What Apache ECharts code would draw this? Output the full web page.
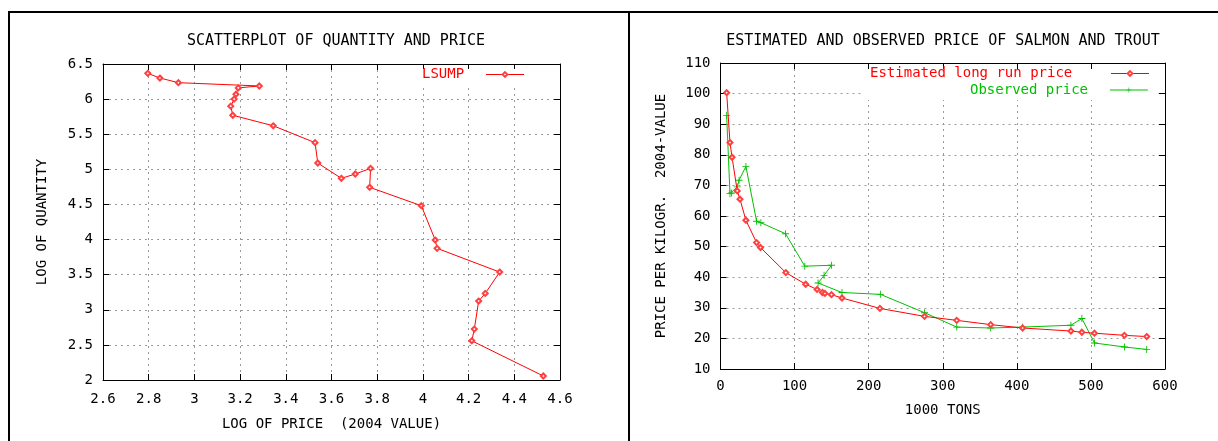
<!DOCTYPE html>
<html>
<head>
<meta charset="utf-8">
<script src="https://cdn.jsdelivr.net/npm/echarts@6/dist/echarts.min.js"></script>
<style>
html, body { margin: 0; padding: 0; background: #fff; }
#chart { width: 1218px; height: 441px; }
</style>
</head>
<body>
<div id="chart"></div>
<script>
// left panel: log of price vs log of quantity, in plotting order
const lsumpPoints = [
  [2.796, 6.367], [2.849, 6.30], [2.93, 6.234], [3.284, 6.187], [3.192, 6.16],
  [3.182, 6.07], [3.174, 6.0], [3.159, 5.9], [3.168, 5.77], [3.345, 5.62],
  [3.528, 5.38], [3.54, 5.09], [3.643, 4.872], [3.704, 4.933], [3.771, 5.014],
  [3.767, 4.744], [3.993, 4.482], [4.054, 3.993], [4.062, 3.875], [4.336, 3.537],
  [4.273, 3.233], [4.244, 3.124], [4.225, 2.725], [4.214, 2.558], [4.527, 2.057],
]

// right panel: 1000 tons vs price per kg (2004 value)
const estimatedPrice = [
  [8.3, 100.3], [12.8, 84], [15.6, 79.2], [22.6, 68.2], [26.3, 65.5],
  [34.3, 58.6], [48.7, 51.3], [54, 49.7], [88.2, 41.5], [115, 37.7],
  [130.4, 36.0], [137.6, 35.0], [141, 34.7], [149.8, 34.3], [164, 33.2],
  [215.2, 29.8], [275.4, 27.2], [318.9, 25.9], [364.7, 24.5], [407.8, 23.4],
  [473, 22.4], [487.8, 22.0], [504.8, 21.7], [545.2, 21.0], [575.3, 20.6],
]
const observedPrice = [
  [8.3, 92.9], [12.8, 67.3], [15, 67.5], [22.6, 69.5], [25, 71.7],
  [34.3, 76.2], [48.7, 58.3], [54.5, 57.8], [87.8, 54.2], [113.8, 43.6],
  [149.8, 43.9], [139.8, 40.6], [131.7, 38.1], [164, 35], [215.8, 34.4],
  [275.4, 28.4], [318.9, 23.7], [364.7, 23.4], [407.8, 23.7], [473, 24.3],
  [487.8, 26.5], [504.8, 18.5], [545.2, 17.2], [575.3, 16.4],
]

// axis ranges: [min, max, interval]
const logPriceRange = [2.6, 4.6, 0.2]
const logQuantityRange = [2, 6.5, 0.5]
const tonsRange = [0, 600, 100]
const priceRange = [10, 110, 10]

const FONT = 'DejaVu Sans Mono'
const txt = { fontFamily: FONT, fontSize: 14, color: '#000' }

function mainAxis(pos, range, gridIndex, name, nameGap, labelMargin) {
  return {
    type: 'value',
    gridIndex: gridIndex,
    position: pos,
    min: range[0],
    max: range[1],
    interval: range[2],
    name: name,
    nameLocation: 'middle',
    nameGap: nameGap,
    nameRotate: pos === 'left' ? 90 : 0,
    nameTextStyle: txt,
    axisLine: { show: true, onZero: false, lineStyle: { color: '#000', width: 1 } },
    axisTick: { show: true, inside: true, length: 6, lineStyle: { color: '#000' } },
    axisLabel: {
      fontFamily: FONT, fontSize: 14, color: '#000', margin: labelMargin,
      formatter: v => String(Math.round(v * 10) / 10),
    },
    splitLine: { show: true, lineStyle: { color: '#999', width: 1, type: [2, 4] } },
  }
}

// gnuplot mirrors the ticks on the top and right border
function mirrorAxis(pos, range, gridIndex) {
  return {
    type: 'value',
    gridIndex: gridIndex,
    position: pos,
    min: range[0],
    max: range[1],
    interval: range[2],
    axisLine: { show: true, onZero: false, lineStyle: { color: '#000', width: 1 } },
    axisTick: { show: true, inside: true, length: 6, lineStyle: { color: '#000' } },
    axisLabel: { show: false },
    splitLine: { show: false },
  }
}

const plusSymbol = 'path://M0,3.5 H8 V4.5 H0 Z M3.5,0 H4.5 V8 H3.5 Z'

const keyLegend = {
  padding: 0, align: 'right', selectedMode: false,
  itemWidth: 38, itemHeight: 6, textStyle: txt,
  lineStyle: { width: 1 },
}

const chart = echarts.init(document.getElementById('chart'), null, { renderer: 'canvas' })
chart.setOption({
  animation: false,
  title: [
    {
      text: 'SCATTERPLOT OF QUANTITY AND PRICE',
      left: 331, top: 29, textAlign: 'center',
      textStyle: { fontFamily: FONT, fontSize: 15, fontWeight: 'normal', color: '#000' },
    },
    {
      text: 'ESTIMATED AND OBSERVED PRICE OF SALMON AND TROUT',
      left: 938, top: 29, textAlign: 'center',
      textStyle: { fontFamily: FONT, fontSize: 15, fontWeight: 'normal', color: '#000' },
    },
  ],
  grid: [
    { left: 103, top: 64, width: 457, height: 316 },
    { left: 720.5, top: 63, width: 444.5, height: 306 },
  ],
  xAxis: [
    mainAxis('bottom', logPriceRange, 0, 'LOG OF PRICE  (2004 VALUE)', 37, 12),
    mirrorAxis('top', logPriceRange, 0),
    mainAxis('bottom', tonsRange, 1, '1000 TONS', 34, 10),
    mirrorAxis('top', tonsRange, 1),
  ],
  yAxis: [
    mainAxis('left', logQuantityRange, 0, 'LOG OF QUANTITY', 54, 10),
    mirrorAxis('right', logQuantityRange, 0),
    mainAxis('left', priceRange, 1, 'PRICE PER KILOGR.  2004-VALUE', 52, 10),
    mirrorAxis('right', priceRange, 1),
  ],
  legend: [
    Object.assign({}, keyLegend, {
      data: [{ name: 'LSUMP', textStyle: { color: '#ff0000' } }],
      left: 422, top: 67.5, formatter: n => n + '  ',
    }),
    Object.assign({}, keyLegend, {
      data: [{ name: 'Estimated long run price', textStyle: { color: '#ff0000' } }],
      left: 870, top: 66.5, formatter: n => n + '    ',
    }),
    Object.assign({}, keyLegend, {
      data: [{ name: 'Observed price', textStyle: { color: '#00c000' } }],
      left: 970, top: 83, formatter: n => n + '  ',
    }),
  ],
  graphic: [
    // key backgrounds hide the grid like gnuplot does
    { type: 'rect', z: 3, silent: true, shape: { x: 418, y: 69, width: 112, height: 16 }, style: { fill: '#fff' } },
    { type: 'rect', z: 3, silent: true, shape: { x: 864, y: 69, width: 292, height: 31 }, style: { fill: '#fff' } },
    // page frame
    { type: 'line', z: 10, silent: true, shape: { x1: 8, y1: 12, x2: 1218, y2: 12 }, style: { stroke: '#000', lineWidth: 2 } },
    { type: 'line', z: 10, silent: true, shape: { x1: 9, y1: 12, x2: 9, y2: 441 }, style: { stroke: '#000', lineWidth: 2 } },
    { type: 'line', z: 10, silent: true, shape: { x1: 629, y1: 12, x2: 629, y2: 441 }, style: { stroke: '#000', lineWidth: 2 } },
  ],
  series: [
    {
      name: 'LSUMP',
      type: 'line',
      xAxisIndex: 0,
      yAxisIndex: 0,
      data: lsumpPoints,
      symbol: 'emptyDiamond',
      symbolSize: 5,
      lineStyle: { color: '#ff0000', width: 1 },
      itemStyle: { color: '#ff4040', borderWidth: 1 },
      z: 5,
    },
    {
      name: 'Estimated long run price',
      type: 'line',
      xAxisIndex: 2,
      yAxisIndex: 2,
      data: estimatedPrice,
      symbol: 'emptyDiamond',
      symbolSize: 5,
      lineStyle: { color: '#ff0000', width: 1 },
      itemStyle: { color: '#ff4040', borderWidth: 1 },
      z: 5,
    },
    {
      name: 'Observed price',
      type: 'line',
      xAxisIndex: 2,
      yAxisIndex: 2,
      data: observedPrice,
      symbol: plusSymbol,
      symbolSize: 7,
      lineStyle: { color: '#00c000', width: 1 },
      itemStyle: { color: '#00c000' },
      z: 4,
    },
  ],
})
</script>
</body>
</html>
